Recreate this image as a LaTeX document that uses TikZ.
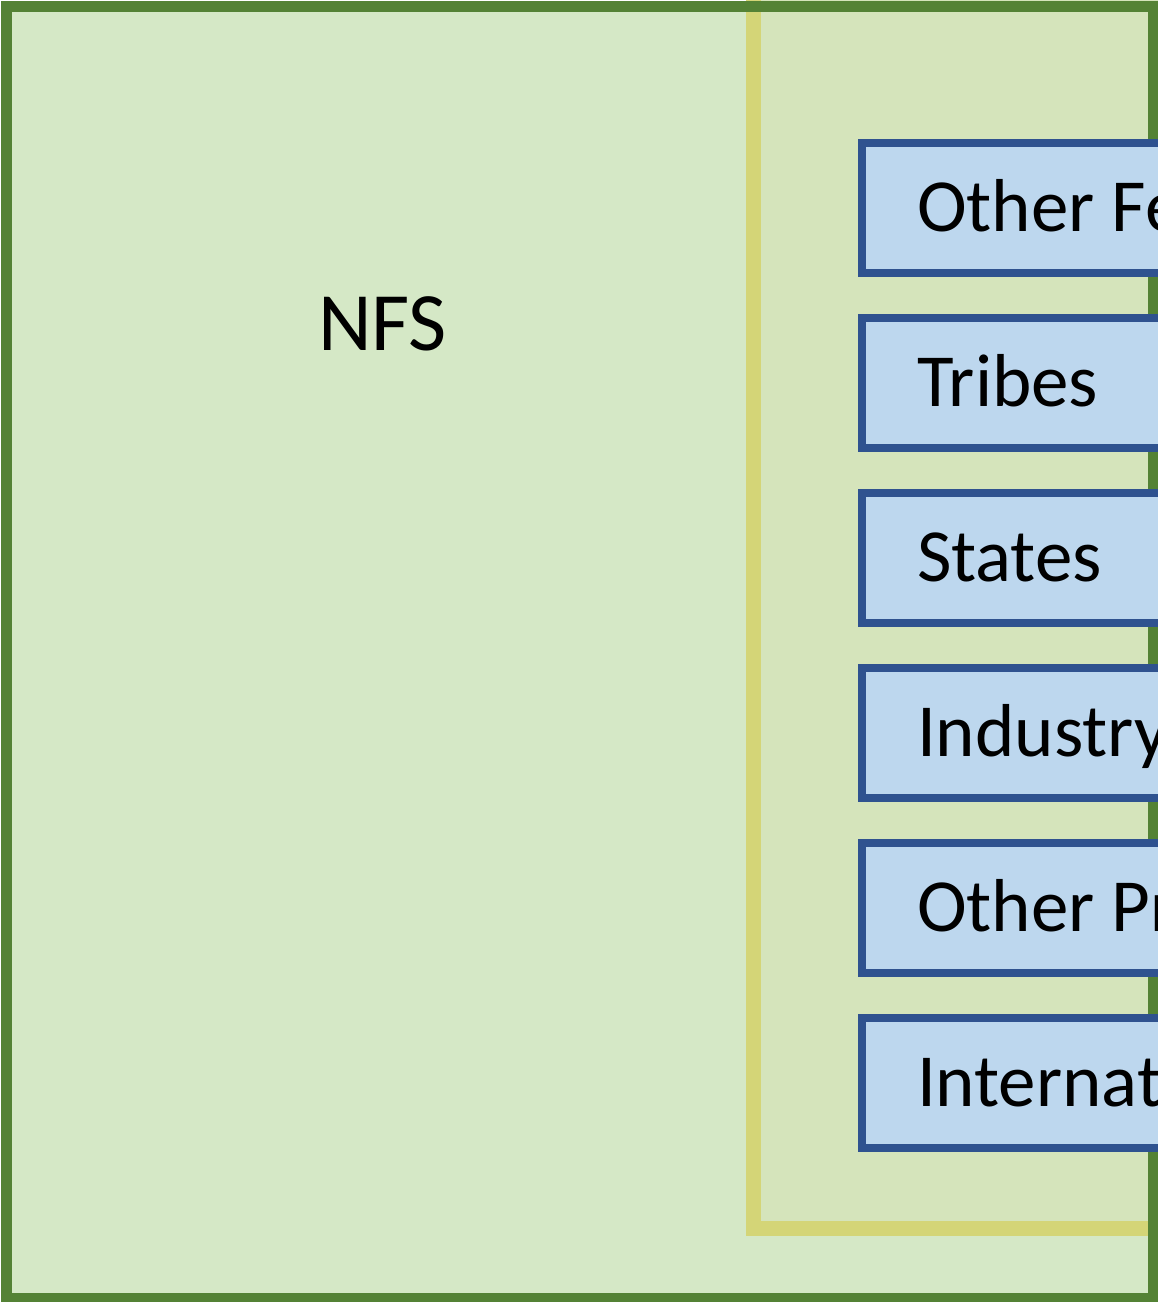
\documentclass[tikz,border=0pt]{standalone}
\usepackage{fontspec}
\setmainfont{Carlito}
\definecolor{outerfill}{HTML}{D5E8C6}
\definecolor{outerline}{HTML}{548235}
\definecolor{yelline}{HTML}{D4D577}
\definecolor{yelfill}{HTML}{D5E4BB}
\definecolor{yeltop}{HTML}{F2C14A}
\definecolor{boxline}{HTML}{2F528F}
\definecolor{boxfill}{HTML}{BDD7EE}
\tikzset{
  outerframe/.style={draw=outerline, line width=11pt},
  yelframe/.style={draw=yelline, line width=15pt, fill=yelfill},
  orgbox/.style={rectangle, draw=boxline, fill=boxfill, line width=8pt,
    minimum width=500pt, minimum height=130pt, inner sep=0pt, outer sep=0pt, anchor=north west},
  orglabel/.style={inner sep=0pt, outer sep=0pt, anchor=base west, font=\fontsize{75}{90}\selectfont},
  biglabel/.style={inner sep=0pt, outer sep=0pt, anchor=base, font=\fontsize{83}{100}\selectfont}
}
\begin{document}
\begin{tikzpicture}[x=1pt, y=-1pt]
\useasboundingbox (0,0) rectangle (1158,1302);
\begin{scope}
\clip (0,0) rectangle (1158,1302);
% outer fill
\fill[outerfill] (6.5,6.5) rectangle (1153.5,1298);
% yellow inner area
\fill[yeltop] (746,-5) rectangle (761,1);
\path[yelframe] (753.5,-40) rectangle (1250,1228);
% outer border on top
\draw[outerframe] (6.5,6.5) rectangle (1153.5,1298);
% label
\node[biglabel] (nfs) at (382.5,350) {NFS};
% boxes
\node[orgbox] (b1) at (862,143) {};
\node[orgbox] (b2) at (862,318) {};
\node[orgbox] (b3) at (862,493) {};
\node[orgbox] (b4) at (862,668) {};
\node[orgbox] (b5) at (862,843) {};
\node[orgbox] (b6) at (862,1018) {};
\node[orglabel] (t1) at ([xshift=55pt, yshift=-23pt]b1.west) {Other Fe};
\node[orglabel] (t2) at ([xshift=55pt, yshift=-23pt]b2.west) {Tribes};
\node[orglabel] (t3) at ([xshift=55pt, yshift=-23pt]b3.west) {States};
\node[orglabel] (t4) at ([xshift=55pt, yshift=-23pt]b4.west) {Industry};
\node[orglabel] (t5) at ([xshift=55pt, yshift=-23pt]b5.west) {Other Pr};
\node[orglabel] (t6) at ([xshift=55pt, yshift=-23pt]b6.west) {Internat};
\end{scope}
\end{tikzpicture}
\end{document}
